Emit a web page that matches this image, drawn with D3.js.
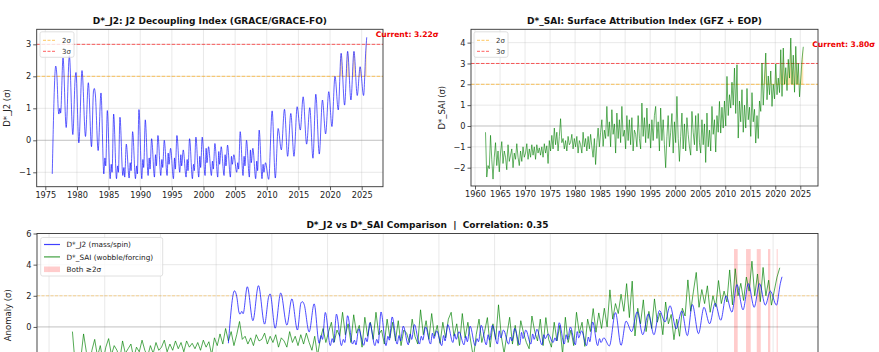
<!DOCTYPE html>
<html><head><meta charset="utf-8">
<script src="https://cdn.jsdelivr.net/npm/d3@7"></script>
<style>
body{margin:0;background:#fff}
svg{display:block;font-family:"DejaVu Sans",sans-serif}
</style></head>
<body><svg id="c" width="879" height="352"></svg>
<script>
// ---------- DATA ----------
// D*_J2 index: [decimal year, sigma]
const j2Data = [
[1976.10,-1.05],[1976.65,2.32],[1976.85,1.95],[1977.05,0.95],[1977.15,0.82],[1977.30,1.00],[1977.42,0.85],[1977.80,2.58],
[1978.30,0.40],[1978.80,2.65],[1979.35,0.18],[1979.72,1.95],[1979.85,2.12],[1980.30,-0.08],[1980.80,2.18],[1981.35,0.12],
[1981.80,1.80],[1982.30,-0.20],[1982.62,1.55],[1982.75,1.62],[1982.90,1.45],[1983.35,-0.32],[1983.80,1.48],
[1984.25,-1.05],[1984.42,-0.55],[1984.55,-0.80],[1984.80,0.93],
[1985.25,-1.20],[1985.42,-0.75],[1985.55,-1.00],[1985.80,0.82],
[1986.25,-1.20],[1986.42,-0.80],[1986.55,-1.00],[1986.80,0.72],
[1987.25,-1.10],[1987.42,-0.85],[1987.55,-1.15],[1987.80,-0.12],
[1988.25,-1.18],[1988.42,-0.70],[1988.55,-0.95],[1988.80,0.27],
[1989.25,-1.20],[1989.42,-0.80],[1989.55,-1.05],[1989.80,0.96],
[1990.25,-1.20],[1990.42,-0.60],[1990.55,-0.85],[1990.80,0.64],
[1991.25,-1.10],[1991.42,-0.55],[1991.55,-0.90],[1991.80,0.05],
[1992.25,-1.15],[1992.42,-0.45],[1992.55,-0.80],[1992.80,0.15],
[1993.25,-1.10],[1993.42,-0.60],[1993.55,-0.85],[1993.80,0.00],
[1994.25,-1.10],[1994.42,-0.40],[1994.55,-0.75],[1994.80,-0.25],
[1995.25,-1.20],[1995.42,-0.55],[1995.55,-0.90],[1995.80,0.15],
[1996.25,-1.00],[1996.42,-0.45],[1996.55,-0.80],[1996.80,-0.30],
[1997.25,-1.15],[1997.42,-0.60],[1997.55,-0.95],[1997.80,0.05],
[1998.25,-1.20],[1998.42,-0.75],[1998.55,-0.95],[1998.80,0.10],
[1999.25,-1.15],[1999.42,-0.50],[1999.55,-0.85],[1999.80,0.10],
[2000.25,-1.10],[2000.42,-0.25],[2000.55,-0.70],[2000.80,-0.20],
[2001.25,-1.10],[2001.42,-0.65],[2001.55,-0.90],[2001.80,-0.10],
[2002.25,-1.15],[2002.42,-0.35],[2002.55,-0.75],[2002.80,-0.20],
[2003.25,-1.10],[2003.42,-0.45],[2003.55,-0.80],[2003.80,-0.15],
[2004.25,-1.15],[2004.42,-0.50],[2004.55,-0.75],[2004.80,-0.45],
[2005.25,-1.00],[2005.42,-0.70],[2005.55,-0.90],[2005.80,0.27],
[2006.25,-1.10],[2006.42,-0.50],[2006.55,-0.80],[2006.80,0.00],
[2007.25,-1.15],[2007.42,-0.30],[2007.55,-0.70],[2007.80,-0.25],
[2008.25,-1.20],[2008.42,-0.65],[2008.55,-0.95],[2008.80,0.32],
[2009.25,-1.20],[2009.42,-0.75],[2009.55,-1.00],[2009.80,-0.70],
[2010.30,-1.22],[2010.85,0.92],[2011.35,-1.18],[2011.80,0.37],[2012.30,-0.30],[2012.80,0.97],[2013.30,-0.50],[2013.80,0.84],
[2014.30,-0.50],[2014.80,1.05],[2015.30,0.32],[2015.75,1.36],[2016.30,-0.12],[2016.80,1.02],[2017.30,-0.56],[2017.75,1.44],
[2018.30,-0.43],[2018.80,1.26],[2019.30,0.20],[2019.80,1.52],[2020.30,0.43],[2020.78,2.00],[2021.30,0.95],[2021.75,2.72],
[2022.30,1.10],[2022.78,2.78],[2023.30,1.26],[2023.78,2.78],[2024.30,1.40],[2024.75,2.30],[2025.30,1.40],[2025.65,2.80],[2025.80,3.22]
];

// D*_SAI index: quarterly samples starting 1962.1
const saiStart = 1962.1, saiStep = 0.25;
const saiValues = [
-0.30,-2.45,-1.90,-2.05, -0.45,-1.60,-2.55,-1.50, -0.80,-1.90,-1.20,-2.20, -1.30,-0.75,-1.80,-1.20,
-1.50,-2.10,-0.90,-1.70, -1.40,-1.10,-2.00,-1.30, -1.60,-0.85,-1.50,-1.90, -1.20,-1.70,-1.00,-1.50,
-1.30,-0.85,-1.60,-1.10, -1.50,-0.90,-1.40,-1.00, -1.60,-0.90,-1.30,-1.05, -1.40,-1.00,-1.50,-0.85,
-1.30,-0.95,-1.80,-0.70, -1.20,-0.45,-1.10,-0.10, -0.90,-0.30,-1.20,-0.50,  0.35,-0.80,-0.60,-1.10,
-0.70,-1.20,-0.50,-0.90, -0.80,-0.40,-1.10,-0.60, -1.00,-0.50,-1.30,-0.70, -0.90,-1.30,-0.30,-1.00,
-0.60,-1.20,-0.50,-1.10, -0.40,-1.00,-1.50,-0.60, -1.85,-0.80,-0.10,-1.00, -0.30, 0.30,-0.98,-0.20,
-0.60, 0.94,-0.50, 0.20, -1.00, 0.78,-0.40, 0.10, -1.30, 0.62,-0.60, 0.30, -0.80, 0.94,-0.50,-0.20,
-1.10, 0.50,-0.70, 0.30, -0.90, 0.40,-1.20,-0.20, -0.40,-1.00, 0.50,-0.60, -1.10, 1.10,-0.50, 0.40,
-0.80, 0.86,-0.60, 0.10, -1.06, 0.30,-0.70, 0.50,  0.94,-0.60, 0.20,-1.20,  0.86,-0.70, 0.30,-0.90,
-2.00,-0.50, 0.50,-1.00, -0.30, 0.60,-1.30, 0.20, -0.80, 1.42,-0.60,-1.70, -0.50, 0.62,-1.10, 0.10,
-1.20, 0.40,-0.40,-1.00, -1.40, 0.70,-0.30,-0.90,  0.50,-1.20, 0.60,-0.80, -1.30, 0.30,-0.90, 0.10,
-1.75, 0.62,-1.00,-0.20, -1.20, 0.94,-0.40, 0.30, -1.25, 0.50,-0.30, 1.18, -0.34, 0.90,-0.10, 1.20,
 0.00, 2.38, 0.50, 1.50,  0.86, 2.10, 1.00, 2.78,  0.60, 2.94,-0.58, 1.20,  0.20, 1.74,-0.30, 1.00,
-0.10, 1.80, 0.30, 0.90, -0.50, 1.60, 0.20, 0.80, -0.82, 0.50,-0.60, 1.20,  0.70, 3.02, 1.00, 2.30,
 3.50, 1.26, 2.40, 1.50,  2.64, 0.94, 2.00, 1.30,  2.98, 1.50, 2.30, 1.60,  3.66, 1.42, 3.74, 2.00,
 2.80, 1.70, 3.20, 2.30,  4.22, 2.00, 3.40, 1.62,  3.82, 2.00, 3.00, 1.40,  2.30, 3.20, 3.80
];

// Periods where both indices are >= 2 sigma (start, end years)
const bothStart = [2021.49, 2022.57, 2023.53, 2024.54, 2025.32];
const bothEnd   = [2021.82, 2022.99, 2023.89, 2024.75, 2025.41];

const thresholdValues = [2, 3];
const thresholdLabels = ["2σ", "3σ"];
const thresholdColors = ["#ffa500", "#ff0000"];
const fillFromYear = 2015;
const yearTicks5 = d3.range(1960, 2026, 5);
const j2YTicks = [-1, 0, 1, 2, 3];
const saiYTicks = [-2, -1, 0, 1, 2, 3, 4];
const cmpYTicks = [-4, -2, 0, 2, 4, 6];
const seriesNames = ["D*_J2 (mass/spin)", "D*_SAI (wobble/forcing)", "Both ≥2σ"];

// ---------- DRAWING ----------
const svg = d3.select("#c");
const saiData = saiValues.map((v, i) => [saiStart + i * saiStep, v]);

function makePanel(id, box, xDom, yDom, xTicks, yTicks, title, ylabel, showXAxis) {
  const x = d3.scaleLinear().domain(xDom).range([box.l, box.r]);
  const y = d3.scaleLinear().domain(yDom).range([box.b, box.t]);
  const g = svg.append("g");
  g.append("clipPath").attr("id", id).append("rect")
    .attr("x", box.l).attr("y", box.t).attr("width", box.r - box.l).attr("height", box.b - box.t);
  const grid = g.append("g").attr("clip-path", `url(#${id})`);
  grid.selectAll(".gx").data(xTicks).join("line")
    .attr("x1", d => x(d)).attr("x2", d => x(d)).attr("y1", box.t).attr("y2", box.b)
    .attr("stroke", "#b0b0b0").attr("stroke-opacity", 0.35).attr("stroke-width", 0.8);
  grid.selectAll(".gy").data(yTicks).join("line")
    .attr("y1", d => y(d)).attr("y2", d => y(d)).attr("x1", box.l).attr("x2", box.r)
    .attr("stroke", "#b0b0b0").attr("stroke-opacity", 0.35).attr("stroke-width", 0.8);
  grid.append("line").attr("x1", box.l).attr("x2", box.r).attr("y1", y(0)).attr("y2", y(0))
    .attr("stroke", "#808080").attr("stroke-opacity", 0.35).attr("stroke-width", 1);
  const plot = g.append("g").attr("clip-path", `url(#${id})`);
  const axes = [];
  if (showXAxis) {
    axes.push(g.append("g").attr("transform", `translate(0,${box.b})`)
      .call(d3.axisBottom(x).tickValues(xTicks.filter(t => t >= xDom[0] && t <= xDom[1])).tickFormat(d3.format("d")).tickSize(3.5).tickPadding(2)));
  }
  axes.push(g.append("g").attr("transform", `translate(${box.l},0)`)
    .call(d3.axisLeft(y).tickValues(yTicks.filter(t => y(t) <= 352)).tickFormat(d3.format("d")).tickSize(3.5).tickPadding(2)));
  axes.forEach(a => {
    a.select(".domain").remove();
    a.selectAll("line").attr("stroke", "#333").attr("stroke-width", 0.8);
    a.selectAll("text").attr("font-size", 8.2).attr("fill", "#222").attr("font-family", "DejaVu Sans");
  });
  g.append("rect").attr("x", box.l).attr("y", box.t).attr("width", box.r - box.l).attr("height", box.b - box.t)
    .attr("fill", "none").attr("stroke", "#333").attr("stroke-width", 0.9);
  g.append("text").attr("x", (box.l + box.r) / 2).attr("y", box.t - 5.5).attr("text-anchor", "middle")
    .attr("font-size", 9).attr("font-weight", "bold").attr("fill", "#111").style("white-space", "pre").text(title);
  g.append("text").attr("transform", `translate(${box.l - 26.5},${(box.t + box.b) / 2}) rotate(-90)`)
    .attr("text-anchor", "middle").attr("font-size", 8.5).attr("fill", "#222").text(ylabel);
  return { g, plot, x, y, box };
}

function thresholdsAndLegend(p, legendX) {
  thresholdValues.forEach((v, i) => {
    p.plot.append("line").attr("x1", p.box.l).attr("x2", p.box.r).attr("y1", p.y(v)).attr("y2", p.y(v))
      .attr("stroke", thresholdColors[i]).attr("stroke-opacity", 0.7).attr("stroke-width", 0.9)
      .attr("stroke-dasharray", "3.5,1.5");
  });
  const lg = p.g.append("g");
  lg.append("rect").attr("x", legendX).attr("y", p.box.t + 2.5).attr("width", 34).attr("height", 25.5)
    .attr("rx", 2).attr("fill", "#fff").attr("fill-opacity", 0.8).attr("stroke", "#d8d8d8").attr("stroke-width", 0.8);
  thresholdLabels.forEach((lab, i) => {
    const yy = p.box.t + 11 + i * 11;
    lg.append("line").attr("x1", legendX + 3).attr("x2", legendX + 15).attr("y1", yy).attr("y2", yy)
      .attr("stroke", thresholdColors[i]).attr("stroke-opacity", 0.7).attr("stroke-width", 0.9).attr("stroke-dasharray", "3,1.5");
    lg.append("text").attr("x", legendX + 22).attr("y", yy + 2.5).attr("font-size", 7).attr("fill", "#333").text(lab);
  });
}

function fillAbove(p, data, curve, id) {
  const clipId = id + "f";
  p.g.append("clipPath").attr("id", clipId).append("rect")
    .attr("x", p.x(fillFromYear)).attr("y", p.box.t).attr("width", p.box.r - p.x(fillFromYear)).attr("height", p.y(2) - p.box.t);
  const area = d3.area().x(d => p.x(d[0])).y0(p.y(2)).y1(d => p.y(d[1])).curve(curve);
  p.plot.append("g").attr("clip-path", `url(#${clipId})`).append("path")
    .attr("d", area(data.filter(d => d[0] >= fillFromYear - 1)))
    .attr("fill", "#ffa500").attr("fill-opacity", 0.3);
}

function drawLine(p, data, curve, color, opacity, width) {
  const line = d3.line().x(d => p.x(d[0])).y(d => p.y(d[1])).curve(curve);
  p.plot.append("path").attr("d", line(data)).attr("fill", "none")
    .attr("stroke", color).attr("stroke-opacity", opacity).attr("stroke-width", width).attr("stroke-linejoin", "round");
}

function currentLabel(p, data) {
  const last = data[data.length - 1];
  p.g.append("text").attr("x", p.x(last[0]) + 9).attr("y", p.y(last[1]))
    .attr("font-size", 7.6).attr("font-weight", "bold").attr("fill", "#ee0000")
    .text(`Current: ${last[1].toFixed(2)}σ`);
}

// Panel 1: J2
const p1 = makePanel("c1", { l: 36.7, r: 383, t: 29.3, b: 186.7 }, [1973.64, 2028.37], [-1.45, 3.47],
  yearTicks5, j2YTicks, "D*_J2: J2 Decoupling Index (GRACE/GRACE-FO)", "D*_J2 (σ)", true);
thresholdsAndLegend(p1, 40);
fillAbove(p1, j2Data, d3.curveMonotoneX, "c1");
drawLine(p1, j2Data, d3.curveMonotoneX, "#0000ff", 0.7, 0.9);
currentLabel(p1, j2Data);

// Panel 2: SAI
const p2 = makePanel("c2", { l: 471, r: 818, t: 29.3, b: 186 }, [1959.2, 2028.54], [-2.88, 4.64],
  yearTicks5, saiYTicks, "D*_SAI: Surface Attribution Index (GFZ + EOP)", "D*_SAI (σ)", true);
thresholdsAndLegend(p2, 474);
fillAbove(p2, saiData, d3.curveLinear, "c2");
drawLine(p2, saiData, d3.curveLinear, "#008000", 0.75, 0.8);
currentLabel(p2, saiData);

// Panel 3: comparison (its lower part lies below the picture edge)
const p3 = makePanel("c3", { l: 37, r: 818, t: 233.5, b: 397 }, [1958.92, 2029.03], [-4.5, 6],
  yearTicks5, cmpYTicks, "D*_J2 vs D*_SAI Comparison  |  Correlation: 0.35", "Anomaly (σ)", false);
p3.plot.append("line").attr("x1", p3.box.l).attr("x2", p3.box.r).attr("y1", p3.y(2)).attr("y2", p3.y(2))
  .attr("stroke", "#ffa500").attr("stroke-opacity", 0.5).attr("stroke-width", 0.8).attr("stroke-dasharray", "3,1.5");
p3.plot.selectAll(".band").data(bothStart).join("rect")
  .attr("x", d => p3.x(d)).attr("width", (d, i) => Math.max(0.8, p3.x(bothEnd[i]) - p3.x(d)))
  .attr("y", p3.y(5)).attr("height", p3.y(-4.5) - p3.y(5))
  .attr("fill", "#ff0000").attr("fill-opacity", 0.2);
drawLine(p3, saiData, d3.curveLinear, "#008000", 0.75, 0.9);
drawLine(p3, j2Data, d3.curveMonotoneX, "#0000ff", 0.7, 1.0);

const lg3 = p3.g.append("g");
lg3.append("rect").attr("x", 40.7).attr("y", 237.5).attr("width", 122).attr("height", 38.5).attr("rx", 2)
  .attr("fill", "#fff").attr("fill-opacity", 0.8).attr("stroke", "#d8d8d8").attr("stroke-width", 0.8);
const lgColors = ["#0000ff", "#008000"];
seriesNames.forEach((name, i) => {
  const yy = 244.5 + i * 12.4;
  if (i < 2) {
    lg3.append("line").attr("x1", 44).attr("x2", 60).attr("y1", yy).attr("y2", yy)
      .attr("stroke", lgColors[i]).attr("stroke-opacity", 0.75).attr("stroke-width", 1.2);
  } else {
    lg3.append("rect").attr("x", 44).attr("y", yy - 2.8).attr("width", 16).attr("height", 5.6)
      .attr("fill", "#ff0000").attr("fill-opacity", 0.2);
  }
  lg3.append("text").attr("x", 66.5).attr("y", yy + 2.7).attr("font-size", 7.3).attr("fill", "#222").text(name);
});
</script></body></html>
